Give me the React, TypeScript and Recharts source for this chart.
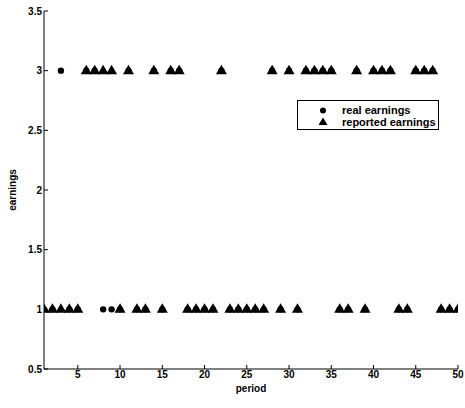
import { ScatterChart, Scatter, XAxis, YAxis } from 'recharts'

// period index for each observation
const periods = [
  1, 2, 3, 4, 5, 6, 7, 8, 9, 10,
  11, 12, 13, 14, 15, 16, 17, 18, 19, 20,
  21, 22, 23, 24, 25, 26, 27, 28, 29, 30,
  31, 32, 33, 34, 35, 36, 37, 38, 39, 40,
  41, 42, 43, 44, 45, 46, 47, 48, 49, 50,
]

const realEarnings = [
  1, 1, 3, 1, 1, 3, 3, 1, 1, 1,
  3, 1, 1, 3, 1, 3, 3, 1, 1, 1,
  1, 3, 1, 1, 1, 1, 1, 3, 1, 3,
  1, 3, 3, 3, 3, 1, 1, 3, 1, 3,
  3, 3, 1, 1, 3, 3, 3, 1, 1, 1,
]

const reportedEarnings = [
  1, 1, 1, 1, 1, 3, 3, 3, 3, 1,
  3, 1, 1, 3, 1, 3, 3, 1, 1, 1,
  1, 3, 1, 1, 1, 1, 1, 3, 1, 3,
  1, 3, 3, 3, 3, 1, 1, 3, 1, 3,
  3, 3, 1, 1, 3, 3, 3, 1, 1, 1,
]

const xTicks = [5, 10, 15, 20, 25, 30, 35, 40, 45, 50]
const yTicks = [0.5, 1, 1.5, 2, 2.5, 3, 3.5]

const realData = periods.map((p, i) => ({ period: p, earnings: realEarnings[i] }))
const reportedData = periods.map((p, i) => ({ period: p, earnings: reportedEarnings[i] }))

const FONT = '"Liberation Sans", Arial, sans-serif'
const tickStyle = { fontSize: 10, fontWeight: 700, fill: '#000', fontFamily: FONT }

const Dot = (props: any) => <circle cx={props.cx} cy={props.cy} r={3.2} fill="#000" />

// triangle big enough to hide a dot sitting at the same spot
const Tri = (props: any) => {
  const { cx, cy } = props
  return <polygon points={`${cx},${cy - 6} ${cx + 5.5},${cy + 3.5} ${cx - 5.5},${cy + 3.5}`} fill="#000" />
}

const LegendBox = () => (
  <svg width={143} height={31} style={{ position: 'absolute', left: 297, top: 100 }}>
    <rect x={0.5} y={0.5} width={141} height={29} fill="#fff" stroke="#000" />
    <circle cx={26} cy={10.5} r={3} fill="#000" />
    <polygon points="26,17.5 30.5,25 21.5,25" fill="#000" />
    <text x={45} y={14} style={{ ...tickStyle, fontSize: 11 }}>real earnings</text>
    <text x={45} y={26} style={{ ...tickStyle, fontSize: 11 }}>reported earnings</text>
  </svg>
)

export default function App() {
  return (
    <div style={{ position: 'fixed', left: 0, top: 0, width: 465, height: 408, background: '#fff' }}>
      <ScatterChart width={465} height={408} margin={{ top: 11, right: 7, left: 0, bottom: 0 }}>
        <XAxis
          type="number"
          dataKey="period"
          domain={[1, 50]}
          allowDataOverflow
          ticks={xTicks}
          height={39}
          tickSize={-4}
          tickMargin={6}
          stroke="#000"
          tick={tickStyle}
          label={{ value: 'period', position: 'insideBottom', offset: 16, style: tickStyle }}
        />
        <XAxis
          xAxisId="top"
          orientation="top"
          type="number"
          domain={[1, 50]}
          allowDataOverflow
          ticks={xTicks}
          height={0}
          tickSize={-4}
          tick={false}
          stroke="#000"
        />
        <YAxis
          type="number"
          dataKey="earnings"
          domain={[0.5, 3.5]}
          allowDataOverflow
          ticks={yTicks}
          width={44}
          tickSize={-4}
          tickMargin={6}
          stroke="#000"
          tick={tickStyle}
          label={{ value: 'earnings', angle: -90, position: 'insideLeft', offset: 12, style: { ...tickStyle, textAnchor: 'middle' } }}
        />
        <YAxis
          yAxisId="right"
          orientation="right"
          type="number"
          domain={[0.5, 3.5]}
          allowDataOverflow
          ticks={yTicks}
          width={0}
          tickSize={-4}
          tick={false}
          stroke="#000"
        />
        <Scatter name="real earnings" data={realData} shape={Dot} isAnimationActive={false} />
        <Scatter name="reported earnings" data={reportedData} shape={Tri} isAnimationActive={false} />
      </ScatterChart>
      <LegendBox />
    </div>
  )
}
